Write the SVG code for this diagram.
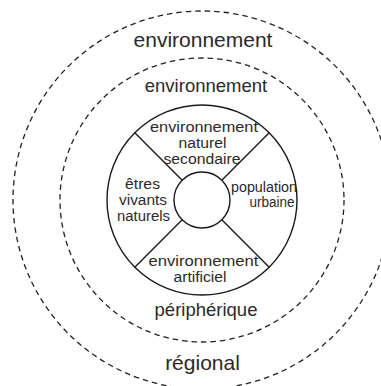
<svg xmlns="http://www.w3.org/2000/svg" width="381" height="386" viewBox="0 0 381 386">
<style>
.dash{fill:none;stroke:#222;stroke-width:1.3;stroke-dasharray:5.5 4}
.solid{fill:none;stroke:#1a1a1a;stroke-width:1.4}
text{font-family:"Liberation Sans",Arial,sans-serif;fill:#2a2a2a;text-anchor:middle}
.big{font-size:21px}
.mid{font-size:18.5px}
.sm{font-size:14px}
</style>
<rect width="381" height="386" fill="#fff"/>
<g id="regional">
<circle class="dash" cx="202" cy="200" r="189"/>
<text class="big" x="203" y="47">environnement</text>
<text class="big" x="202.5" y="370">régional</text>
</g>
<g id="peripherique">
<circle class="dash" cx="202" cy="200" r="142"/>
<text class="mid" x="206" y="92">environnement</text>
<text class="mid" x="206" y="316">périphérique</text>
</g>
<g id="ville">
<circle class="solid" cx="202" cy="200" r="95"/>
</g>
<g id="centre">
<circle class="solid" cx="202" cy="200" r="28"/>
</g>
<g id="connectors">
<line class="solid" x1="182.2" y1="180.2" x2="134.8" y2="132.8"/>
<line class="solid" x1="221.8" y1="180.2" x2="269.2" y2="132.8"/>
<line class="solid" x1="182.2" y1="219.8" x2="134.8" y2="267.2"/>
<line class="solid" x1="221.8" y1="219.8" x2="269.2" y2="267.2"/>
</g>
<g id="naturel-secondaire">
<text class="sm" x="204" y="131.5" textLength="108" lengthAdjust="spacingAndGlyphs">environnement</text>
<text class="sm" x="202.5" y="147.5" textLength="48" lengthAdjust="spacingAndGlyphs">naturel</text>
<text class="sm" x="202" y="163.5" textLength="77" lengthAdjust="spacingAndGlyphs">secondaire</text>
</g>
<g id="etres-vivants">
<text class="sm" x="142.5" y="188.5" textLength="35" lengthAdjust="spacingAndGlyphs">êtres</text>
<text class="sm" x="143" y="204.5" textLength="48" lengthAdjust="spacingAndGlyphs">vivants</text>
<text class="sm" x="143.5" y="220.5" textLength="53" lengthAdjust="spacingAndGlyphs">naturels</text>
</g>
<g id="population-urbaine">
<text class="sm" x="264" y="191.5" textLength="66" lengthAdjust="spacingAndGlyphs">population</text>
<text class="sm" x="272" y="207.3" textLength="45" lengthAdjust="spacingAndGlyphs">urbaine</text>
</g>
<g id="artificiel">
<text class="sm" x="203.5" y="266" textLength="110" lengthAdjust="spacingAndGlyphs">environnement</text>
<text class="sm" x="200" y="282" textLength="53" lengthAdjust="spacingAndGlyphs">artificiel</text>
</g>
</svg>
